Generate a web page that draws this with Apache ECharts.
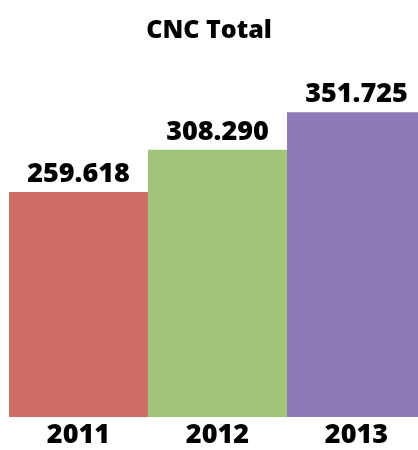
<!DOCTYPE html>
<html>
<head>
<meta charset="utf-8">
<script src="https://cdn.jsdelivr.net/npm/echarts@6/dist/echarts.min.js"></script>
<style>
  html, body { margin: 0; padding: 0; background: #fff; }
  #chart { width: 418px; height: 450px; }
</style>
</head>
<body>
<div id="chart"></div>
<script>
// data
var years = ['2011', '2012', '2013'];
var totals = [259.618, 308.290, 351.725];
var barColors = ['#D06C66', '#A0C47A', '#8C79B7'];

var chart = echarts.init(document.getElementById('chart'));

var fontFamily = '"Open Sans", sans-serif';

var barData = [];
for (var i = 0; i < totals.length; i++) {
    barData.push({ value: totals[i], itemStyle: { color: barColors[i] } });
}

chart.setOption({
    animation: false,
    title: {
        text: 'CNC Total',
        left: 'center',
        top: 13,
        textStyle: { fontFamily: fontFamily, fontWeight: 800, fontSize: 25, color: '#000' }
    },
    // last bar runs past the right edge in the reference
    grid: { left: 9, width: 417, top: 70.4, bottom: 33, outerBoundsMode: 'none' },
    xAxis: {
        type: 'category',
        data: years,
        axisLine: { show: false },
        axisTick: { show: false },
        axisLabel: {
            margin: 5,
            fontFamily: fontFamily,
            fontWeight: 800,
            fontSize: 27,
            color: '#000'
        }
    },
    yAxis: {
        type: 'value',
        min: 0,
        max: 400,
        show: false,
        splitLine: { show: false }
    },
    series: [{
        type: 'bar',
        data: barData,
        barCategoryGap: 0,
        label: {
            show: true,
            position: 'top',
            distance: 4,
            formatter: function (p) { return p.value.toFixed(3); },
            fontFamily: fontFamily,
            fontWeight: 800,
            fontSize: 27,
            color: '#000'
        }
    }]
});
</script>
</body>
</html>
